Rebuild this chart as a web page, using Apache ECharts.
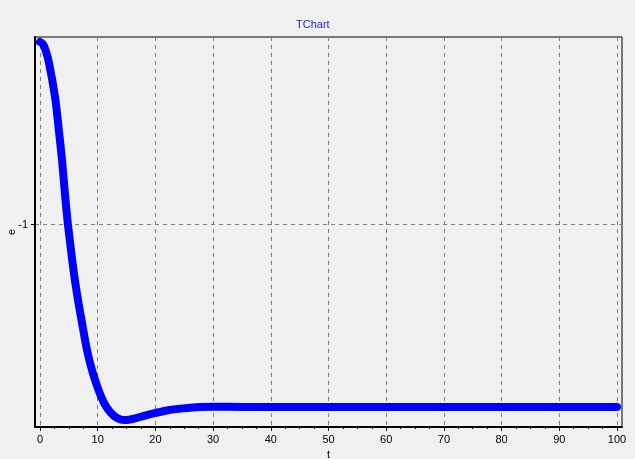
<!DOCTYPE html>
<html>
<head>
<meta charset="utf-8">
<script src="https://cdn.jsdelivr.net/npm/echarts@6/dist/echarts.min.js"></script>
<style>
html,body{margin:0;padding:0;background:#F0F0F0;}
#chart{width:635px;height:459px;}
</style>
</head>
<body>
<div id="chart"></div>
<script>
// Data
const tValues = [0, 0.5, 0.95, 1.56, 2.6, 3.26, 3.81, 4.42, 4.85, 5.8, 6.58, 7.19, 8.14, 9.01, 10.13, 11.09, 12.13, 13.34, 14.72, 16.46, 18.19, 19.92, 22.0, 24.77, 27.7, 30.3, 35, 40, 50, 60, 70, 80, 90, 100];
const eValues = [-0.109, -0.119, -0.148, -0.211, -0.377, -0.538, -0.684, -0.880, -1.001, -1.221, -1.367, -1.465, -1.611, -1.709, -1.806, -1.869, -1.913, -1.943, -1.953, -1.945, -1.931, -1.919, -1.906, -1.896, -1.889, -1.888, -1.889, -1.889, -1.889, -1.889, -1.889, -1.889, -1.889, -1.889];
const xTickLabels = [0, 10, 20, 30, 40, 50, 60, 70, 80, 90, 100];
const xMinorTicks = [2.5, 5, 7.5, 12.5, 15, 17.5, 22.5, 25, 27.5, 32.5, 35, 37.5, 42.5, 45, 47.5, 52.5, 55, 57.5, 62.5, 65, 67.5, 72.5, 75, 77.5, 82.5, 85, 87.5, 92.5, 95, 97.5];
const yTickLabels = [-1];
const titleText = 'TChart';
const xName = 't';
const yName = 'e';

const seriesData = tValues.map((t, i) => [t, eValues[i]]);
const FONT = 'Liberation Sans';

const chart = echarts.init(document.getElementById('chart'));
chart.setOption({
  backgroundColor: '#F0F0F0',
  animation: false,
  title: {
    text: titleText,
    left: 296,
    top: 19,
    padding: 0,
    textStyle: { color: '#2424D0', fontSize: 11, fontWeight: 'normal', fontFamily: FONT }
  },
  grid: {
    left: 35, right: 13, top: 37, bottom: 32,
    containLabel: false,
    outerBoundsMode: 'none',
    show: true, borderColor: '#000', borderWidth: 1, backgroundColor: 'transparent'
  },
  xAxis: [{
    type: 'value',
    min: -0.87, max: 100.87,
    name: xName, nameLocation: 'middle', nameGap: 22, nameMoveOverlap: false,
    nameTextStyle: { color: '#000', fontSize: 11, fontFamily: FONT },
    axisLine: { show: true, onZero: false, lineStyle: { color: '#000', width: 2 } },
    axisTick: { show: true, length: 4, customValues: xTickLabels, lineStyle: { color: '#000', width: 1 } },
    axisLabel: { customValues: xTickLabels, margin: 7, color: '#000', fontSize: 11, fontFamily: FONT },
    splitLine: { show: true, lineStyle: { color: '#808080', width: 1, type: [4, 4] } }
  }, {
    type: 'value',
    min: -0.87, max: 100.87,
    position: 'bottom',
    axisLine: { show: false, onZero: false },
    axisTick: { show: true, length: 2, customValues: xMinorTicks, lineStyle: { color: '#000', width: 1 } },
    axisLabel: { show: false },
    splitLine: { show: false }
  }],
  yAxis: {
    type: 'value',
    min: -1.9868, max: -0.0844,
    name: yName, nameLocation: 'middle', nameGap: 18, nameMoveOverlap: false,
    nameTextStyle: { color: '#000', fontSize: 11, fontFamily: FONT },
    axisLine: { show: true, onZero: false, lineStyle: { color: '#000', width: 2 } },
    axisTick: { show: true, length: 4, customValues: yTickLabels, lineStyle: { color: '#000', width: 1 } },
    axisLabel: { customValues: yTickLabels, margin: 7, color: '#000', fontSize: 11, fontFamily: FONT },
    splitLine: { show: true, lineStyle: { color: '#808080', width: 1, type: [4, 4] } }
  },
  series: [{
    type: 'line',
    xAxisIndex: 0,
    data: seriesData,
    smooth: 0.3,
    showSymbol: false,
    symbol: 'none',
    clip: false,
    lineStyle: { color: '#0000FF', width: 8, cap: 'round', join: 'round' }
  }]
});
</script>
</body>
</html>
